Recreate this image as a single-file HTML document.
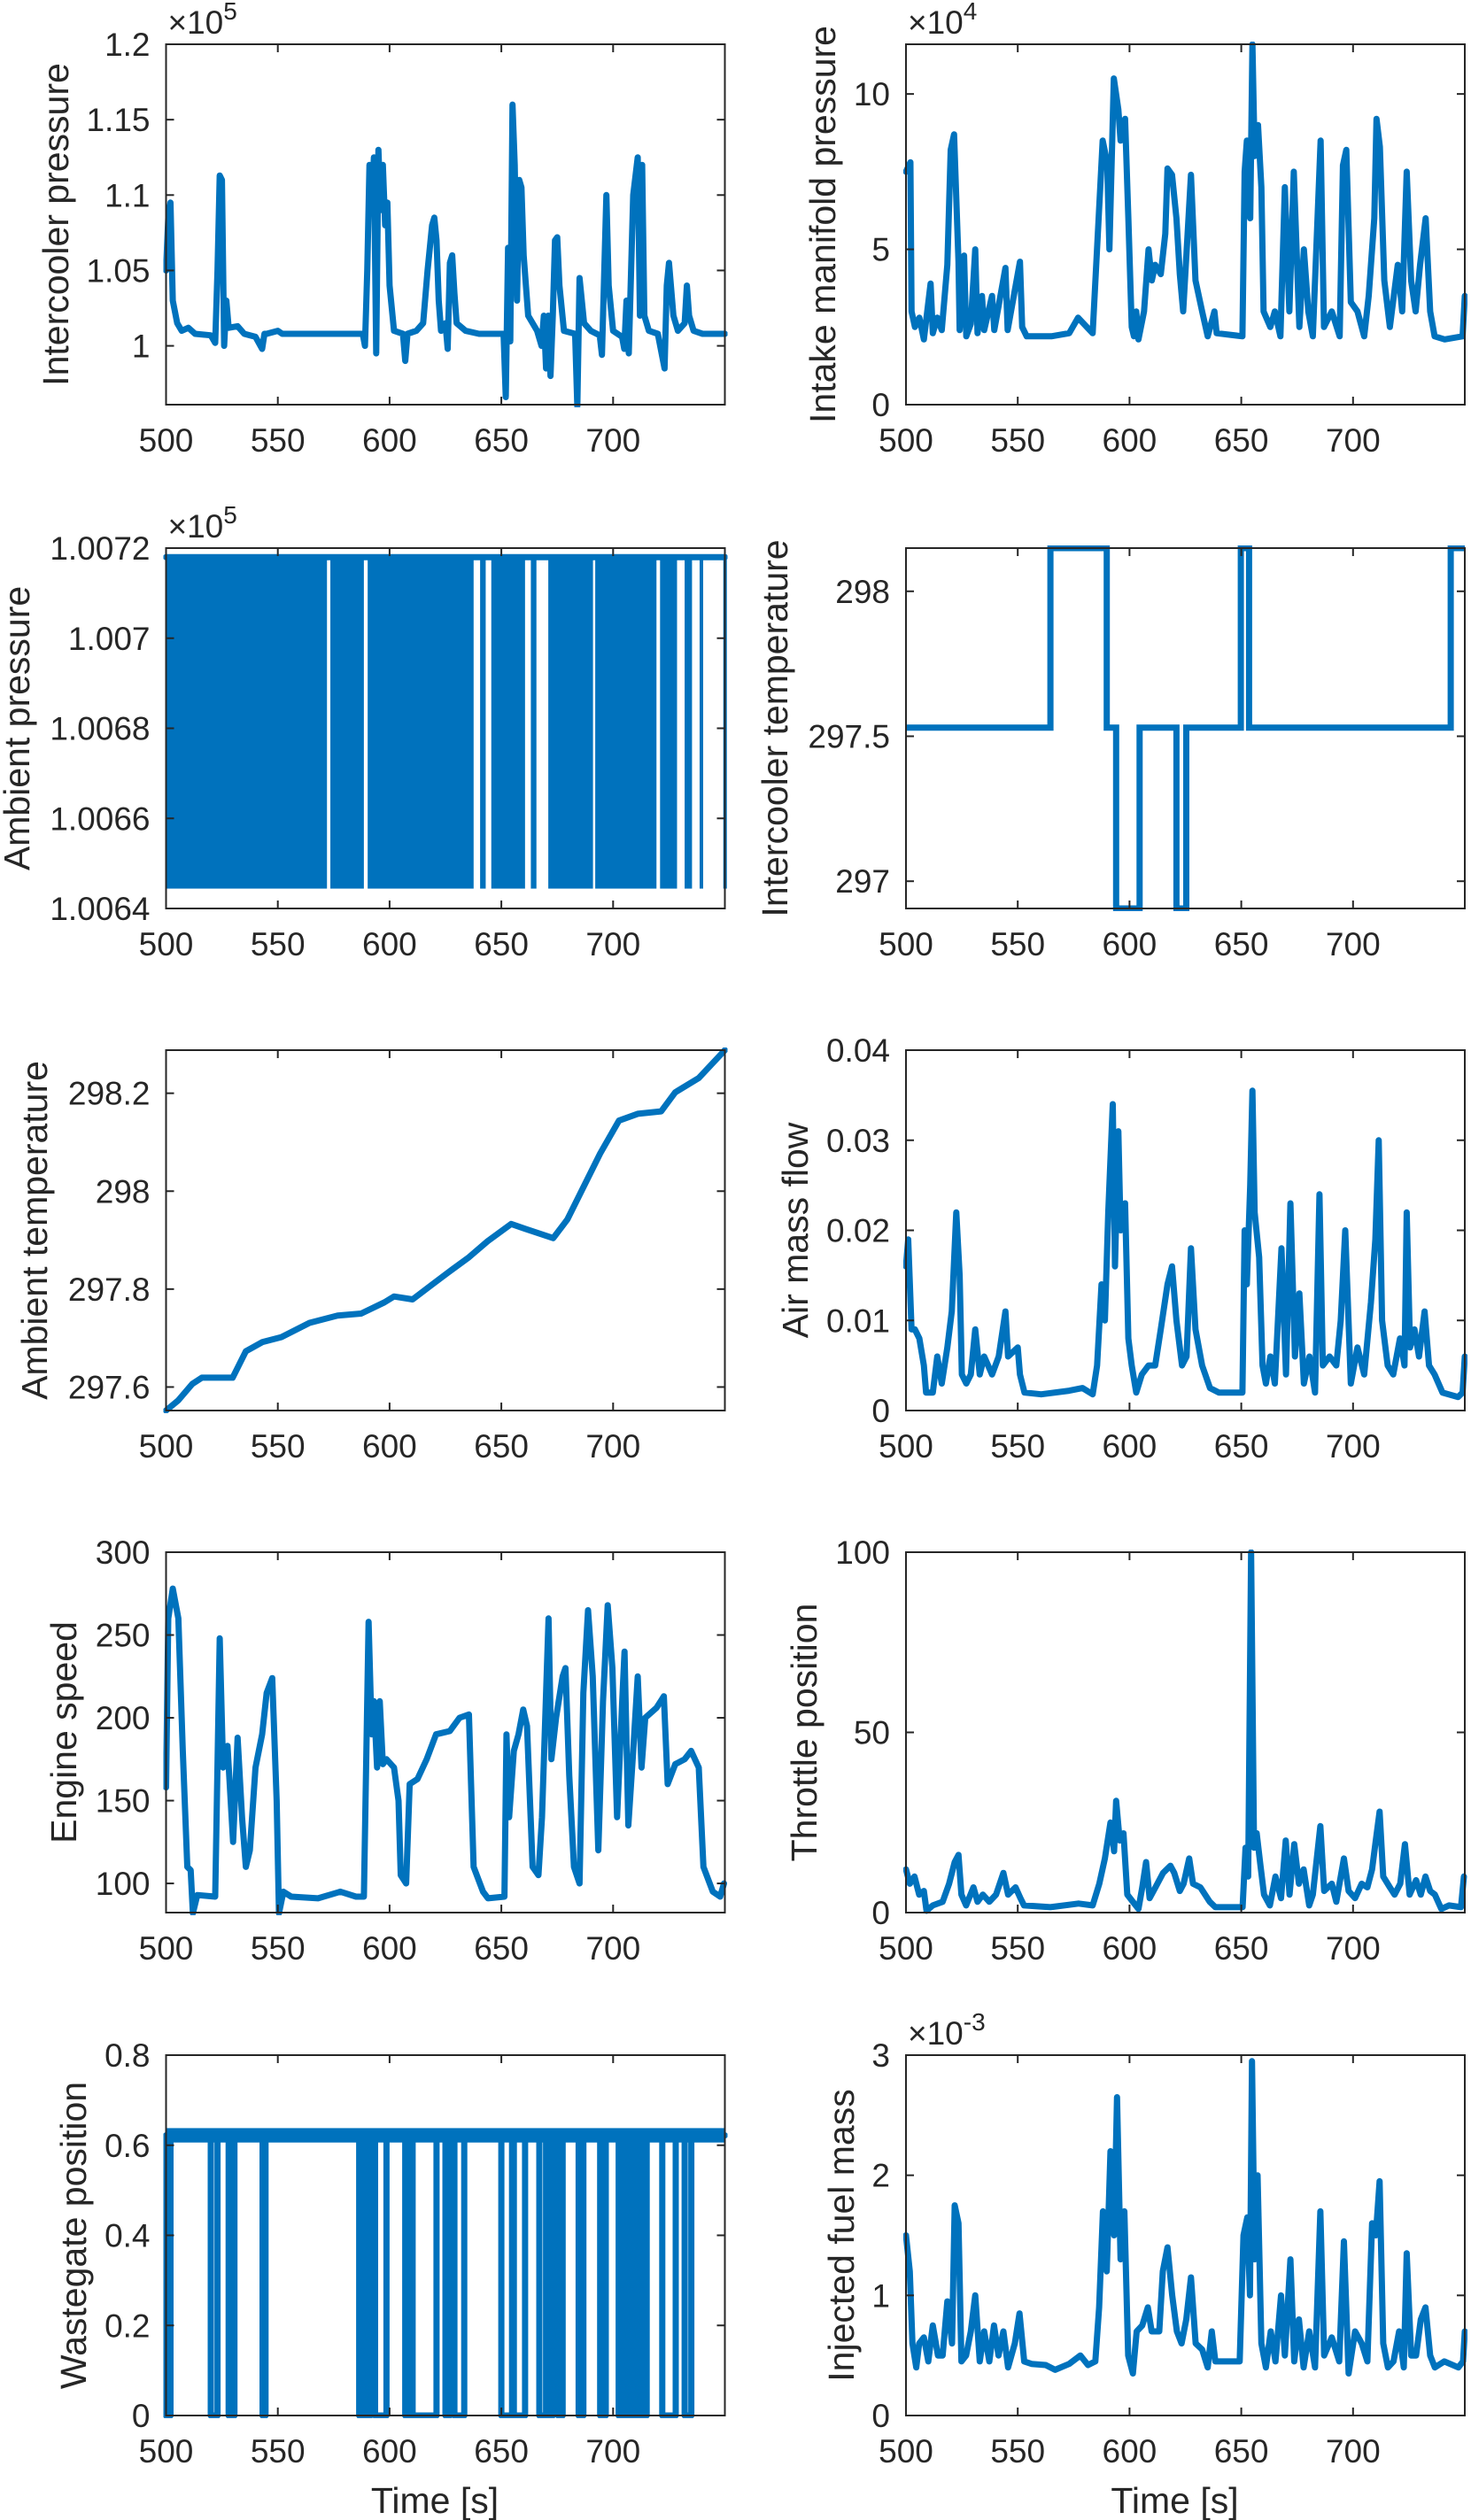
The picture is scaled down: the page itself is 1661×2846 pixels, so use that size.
<!DOCTYPE html>
<html><head><meta charset="utf-8">
<style>
html,body{margin:0;padding:0;background:#fff;}
svg{display:block;font-family:"Liberation Sans",Arial,sans-serif;}
</style></head>
<body>
<svg id="fig" width="1661" height="2846" viewBox="0 0 1661 2846" xmlns="http://www.w3.org/2000/svg"></svg>
<script>
// ---------- data ----------
const xTicks = [500,550,600,650,700,750];
const xTickLabels = ["500","550","600","650","700",""];

const icpT = [500,501,502,503,505,507,510,513,520,522,523,524,525,526,527,528,532,535,540,543,544,545,550,552,588,589,590,591,592,593,594,595,596,597,598,599,600,602,606,607,608,612,615,617,619,620,621,622,623,625,626,627,628,629,630,634,640,651,652,653,654,655,656,657,658,659,660,662,666,668,669,670,671,672,673,674,675,676,678,683,684,685,687,690,694,695,697,698,700,704,705,706,707,709,711,712,713,714,716,720,723,724,725,727,729,732,733,734,736,740,750];
const icpV = [1.05,1.085,1.095,1.03,1.015,1.01,1.012,1.008,1.007,1.002,1.05,1.113,1.11,1.0,1.03,1.012,1.013,1.008,1.006,0.998,1.008,1.008,1.01,1.008,1.008,1.0,1.05,1.12,1.09,1.125,0.995,1.13,1.09,1.12,1.08,1.095,1.04,1.01,1.008,0.99,1.008,1.01,1.015,1.05,1.08,1.085,1.07,1.03,1.01,1.015,0.998,1.055,1.06,1.035,1.015,1.01,1.008,1.008,0.966,1.065,1.003,1.16,1.12,1.03,1.11,1.105,1.06,1.02,1.01,1.0,1.02,0.985,1.02,0.98,1.02,1.07,1.072,1.04,1.01,1.008,0.96,1.045,1.015,1.01,1.007,0.994,1.1,1.04,1.01,1.006,0.998,1.03,0.995,1.1,1.125,1.02,1.12,1.02,1.01,1.008,0.985,1.04,1.055,1.02,1.01,1.015,1.04,1.02,1.01,1.008,1.008];

const impT = [500,502,502.5,504,506,508,511,512,514,516,518.5,520,521.5,523.5,524,526,527,529,531,532,534,535,538.5,539.5,544.5,545.5,551,552,554,565,573,577,583.5,588,590,591,593,595,596,598,599.5,601,602,603,604,606.5,608.5,610,611.5,614,616,617,619,621,622.5,624,627.5,629.5,632.5,635,638,639,650.5,651.5,652.5,654,655,656,657.5,659,660,663,665,667.5,669.5,671.5,673.5,676,678,680,682,685.5,687,690.5,694,695.5,697,699,702,705,707,709.5,710.5,712,714,716.5,720,722,724,726,728,730,732.5,734.5,736.5,741,749,750];
const impV = [7.5,7.8,3,2.5,2.8,2.1,3.9,2.3,2.8,2.4,4.5,8.2,8.7,4.6,2.4,4.8,2.2,2.6,5,2.3,3.5,2.4,3.5,2.4,4.4,2.4,4.6,2.5,2.2,2.2,2.3,2.8,2.3,8.5,7.8,5,10.5,9.5,8.5,9.2,6,2.5,2.2,3,2.1,3,5,4,4.5,4.2,5.5,7.6,7.4,6,4.2,3,7.4,4,3,2.2,3,2.3,2.2,7.5,8.5,6,11.6,8,9,7,3,2.5,3,2.2,7,3,7.5,2.5,5,3,2.2,8.5,2.5,3,2.2,7.7,8.2,3.3,3,2.2,3.5,6,9.2,8.3,4,2.5,4.5,3,7.5,4,3,4.5,6,3,2.2,2.1,2.2,3.5];

const apLow = 1.00645, apHigh = 1.00718;
const apBlockStart = [500,573.5,590.2,640.5,645.5,663.2,671,692,721,732,738.7,749.3];
const apBlockEnd   = [572.0,588.5,637.6,643,660.6,665.7,691,719.4,728.6,735.3,739.5,750];

const ictT = [500,564.6,589.8,594,604.5,621,625.4,649.8,653.5,743.7,750];
const ictV = [297.53,298.149,297.53,296.906,297.53,296.906,297.53,298.149,297.53,298.149,298.149];

const atT = [500,505.5,511.7,516,529.8,535.7,543.2,551.6,564.2,576.8,587.3,597.7,602,610.3,618.7,627.1,635.5,643.9,654.4,660.7,673.2,679.5,685.8,694.2,702.6,711,721.5,727.8,738.3,750];
const atV = [297.552,297.573,297.606,297.619,297.619,297.673,297.692,297.702,297.731,297.746,297.75,297.773,297.785,297.779,297.808,297.837,297.865,297.898,297.933,297.923,297.904,297.942,298.0,298.077,298.144,298.158,298.163,298.202,298.231,298.288];

const amfT = [500,501,502.5,504,506,508,509,512,514,516,518.5,520.5,522.5,524,525,527,529,531,533,535,538.5,541.5,544.5,545.7,550,551,553,560.5,573,579,583.5,585.5,587.5,589,590.5,592.5,593.5,595,596,598,599.5,601,603,605.5,608.5,611.5,614,617,619,621,623.5,625.5,627.5,629.5,632.5,636,640,650.5,651.5,652.5,654,655,656,658,659.5,661,663,665,668,670,672,674,676,678,680.5,683,685,686.5,689.5,692.5,694.5,696.5,699,702,705,708,710,711.5,713,715.5,718,721,723,724,725.5,727.5,729.5,732,734,736.5,740,747,749,750];
const amfV = [0.016,0.019,0.009,0.009,0.008,0.005,0.002,0.002,0.006,0.003,0.007,0.011,0.022,0.015,0.004,0.003,0.004,0.009,0.004,0.006,0.004,0.006,0.011,0.006,0.007,0.004,0.002,0.0018,0.0022,0.0025,0.0018,0.005,0.014,0.01,0.022,0.034,0.016,0.031,0.02,0.023,0.008,0.005,0.002,0.004,0.005,0.005,0.009,0.014,0.016,0.01,0.005,0.006,0.018,0.009,0.005,0.0025,0.002,0.002,0.02,0.014,0.025,0.0355,0.022,0.017,0.005,0.003,0.006,0.003,0.018,0.004,0.023,0.006,0.013,0.003,0.006,0.002,0.024,0.005,0.006,0.005,0.01,0.02,0.003,0.007,0.004,0.012,0.019,0.03,0.01,0.005,0.004,0.008,0.005,0.022,0.007,0.009,0.006,0.011,0.005,0.004,0.002,0.0015,0.002,0.006];

const esT = [500,501,503,505.5,507.5,509.5,511,512,514,522,524,525.5,527.5,530,532,534,535.7,537.5,540,543,545,547.5,549.5,550.5,552.5,556,568,578,585,588.5,590.6,592,593,594.4,595.6,597,598.6,602,604,605,607.4,609,612.5,616.6,620.8,627,631.3,635.5,637.6,641.8,644,651.4,652.3,653.5,655.6,657.7,659.8,661.5,664,666.6,668.2,671.1,672.4,674.5,677.4,678.7,680.4,682.5,685,686.7,688.8,690.9,693.4,695.5,697.6,699.7,701.8,704,705.1,706.8,709,711,712.7,714.4,719.4,722.7,724.4,727.8,732,734.9,738.3,740.4,744.6,747.9,749.6];
const esV = [158,260,278,260,180,110,108,82,93,92,248,170,183,125,188,140,110,120,170,190,215,224,150,82,95,92,91,95,92,92,258,190,210,170,210,172,175,170,150,105,100,160,163,175,190,192,200,202,110,95,91,92,190,140,180,190,205,195,110,105,140,260,175,200,225,230,165,110,100,215,265,225,120,210,268,230,140,208,240,135,180,225,170,200,206,213,160,172,175,180,170,110,95,92,100];

const tpT = [500,501.7,503.8,505.9,508,509.2,512,516.4,519.3,521.8,523.5,524.8,526.9,530.2,532,534.4,537.3,540.3,543.6,545.7,549,551.2,552.8,564.6,577.2,583.5,586.5,589,591.5,593.1,594,595.6,597.3,599,601.5,604,605.7,607.4,609,611.6,615,618.3,620,622.5,624.2,626.7,628.4,631.7,635.9,638.4,650.6,651.9,653.1,654.4,655.7,656.9,658.6,660.2,662.8,665.3,667.8,669.9,671.6,673.7,675.8,677.9,680.4,682,685.4,687.1,690.5,692.5,695.9,698,700.9,703.9,706.4,708.5,710.2,711.9,713.5,716.5,718.6,721.1,723.2,725.3,728.2,730.3,732.4,734.5,736.6,739.5,742.9,748.3,749.6];
const tpV = [12,8,10,5,6,0.5,2,3,8,14,16,5,2,7,3,5,3,5,11,5,7,4,2,1.5,2.5,2,8,15,25,17,31,20,22,5,3,1,7,14,4,7,11,13,11,6,8,15,8,7,3,1.5,1.5,18,10,100,18,22,13,5,2,10,4,20,5,19,8,12,2,5,24,6,8,3,15,6,4,8,7,12,20,28,10,7,5,8,19,5,9,5,10,6,5,1,2,1.5,10];

const wgHigh = 0.622;
const wgDropStart = [500,520,528,543.2,586.4,589.4,593.5,607,610.3,625,629,650,655.6,667,671,675.4,684.6,694.2,702.5,705,707.5,710,713,722,732];
const wgDropEnd   = [502,523,530.6,544.5,588.1,591.5,598.6,609.5,621,627,633.4,654.8,660.6,670,673,677.4,686.7,696.7,704,706.5,709,712,715,728,735];

const ifmT = [500,501.7,502.9,504.6,505.9,508,510,512,514.3,516.4,518.5,520.6,521.8,523.5,524.8,526.9,529,531,533,535,537.3,539.4,541.4,543.6,545.7,548.7,550.8,552.9,556.2,562.5,566.7,573,578,581.4,584.7,586.4,588.1,589.8,591.5,593.1,594.4,596,597.7,599.4,601.5,603.2,605.7,608.2,609.9,613.3,614.9,617,619.1,621.2,623.3,625.4,627.5,629.6,632.5,635,636.8,638.4,649.3,651,652.7,653.9,654.8,656,657.3,659,661,663.2,665.3,667.8,669.5,672,673.7,675.8,677.9,680.4,683,685.4,687.1,690.5,693.8,695.9,698,700.9,703.9,706.4,708.5,710.2,711.9,713.5,715.6,718.1,720.6,722.7,724,726,728.2,730.3,732.4,734.5,736.6,740.8,747.1,749.2,750];
const ifmV = [1.5,1.2,0.6,0.4,0.6,0.65,0.45,0.75,0.5,0.5,0.95,0.6,1.75,1.6,0.45,0.5,0.7,1.0,0.45,0.7,0.45,0.75,0.5,0.7,0.4,0.6,0.85,0.45,0.43,0.42,0.38,0.43,0.5,0.42,0.45,0.9,1.7,1.2,2.2,1.5,2.65,1.3,1.7,0.5,0.35,0.7,0.75,0.9,0.7,0.7,1.2,1.4,1.0,0.7,0.6,0.8,1.15,0.6,0.55,0.4,0.7,0.45,0.45,1.5,1.65,1.0,2.95,1.3,2.0,0.6,0.4,0.7,0.45,1.0,0.5,1.3,0.45,0.8,0.4,0.7,0.4,1.7,0.5,0.65,0.45,1.45,0.35,0.7,0.6,0.45,1.6,1.5,1.95,0.6,0.4,0.45,0.7,0.4,1.35,0.5,0.5,0.8,0.9,0.5,0.4,0.45,0.4,0.45,0.7];

// ---------- drawing ----------
const NS = "http://www.w3.org/2000/svg";
const svg = document.getElementById('fig');
const BLUE = "#0072BD", AX = "#262626";
const colX = [187.5, 1023], W = 631, H = 407;
const rowY = [50, 619, 1186, 1753, 2321];

function mk(tag, attrs, parent) {
  const e = document.createElementNS(NS, tag);
  for (const k in attrs) e.setAttribute(k, attrs[k]);
  (parent || svg).appendChild(e);
  return e;
}

function makeAxes(name, col, row, ylim, yticks, ylabels, ylabel, ylabelX, expo, showTime) {
  const x0 = colX[col], y0 = rowY[row];
  const g = mk('g', {});
  
  
  const sx = t => x0 + (t - 500) / 250 * W;
  const sy = v => y0 + H - (v - ylim[0]) / (ylim[1] - ylim[0]) * H;
  const cid = 'clip-' + name;
  const cp = mk('clipPath', {id: cid}, g);
  mk('rect', {x: x0 - 3, y: y0 - 3, width: W + 6, height: H + 6}, cp);
  const plot = mk('g', {'clip-path': 'url(#' + cid + ')'}, g);
  
  
  const box = mk('rect', {x: x0, y: y0, width: W, height: H, fill: 'none', stroke: AX, 'stroke-width': 2}, g);
  
  
  xTicks.forEach((t, i) => {
    const x = sx(t);
    mk('line', {x1: x, y1: y0 + H, x2: x, y2: y0 + H - 9, stroke: AX, 'stroke-width': 2}, g);
    mk('line', {x1: x, y1: y0, x2: x, y2: y0 + 9, stroke: AX, 'stroke-width': 2}, g);
    if (xTickLabels[i]) {
      const tx = mk('text', {x: x, y: y0 + H + 53, 'font-size': 37, 'text-anchor': 'middle', fill: AX}, g);
      tx.textContent = xTickLabels[i];
      
      
    }
  });
  yticks.forEach((v, i) => {
    const y = sy(v);
    mk('line', {x1: x0, y1: y, x2: x0 + 9, y2: y, stroke: AX, 'stroke-width': 2}, g);
    mk('line', {x1: x0 + W, y1: y, x2: x0 + W - 9, y2: y, stroke: AX, 'stroke-width': 2}, g);
    const ty = mk('text', {x: x0 - 18, y: y + 13, 'font-size': 37, 'text-anchor': 'end', fill: AX}, g);
    ty.textContent = ylabels[i];
    
    
  });
  const cy = y0 + H / 2;
  const yl = mk('text', {x: ylabelX, y: cy, 'font-size': 41, 'text-anchor': 'middle', fill: AX,
    transform: 'rotate(-90 ' + ylabelX + ' ' + cy + ')', 'dominant-baseline': 'central'}, g);
  yl.textContent = ylabel;
  
  
  if (expo) {
    const ex = mk('text', {x: x0 + 2, y: y0 - 12, 'font-size': 37, fill: AX}, g);
    ex.textContent = '\u00d710';
    const sup = mk('tspan', {dy: -16, 'font-size': 28}, ex);
    sup.textContent = expo;
    
    
  }
  if (showTime) {
    const tl = mk('text', {x: x0 + W / 2 - 12, y: y0 + H + 110, 'font-size': 41, 'text-anchor': 'middle', fill: AX}, g);
    tl.textContent = 'Time [s]';
    
    
  }
  return {sx, sy, plot};
}

function drawLine(ax, T, V, name) {
  const pts = T.map((t, i) => ax.sx(t).toFixed(1) + ',' + ax.sy(V[i]).toFixed(1)).join(' ');
  const pl = mk('polyline', {points: pts, fill: 'none', stroke: BLUE, 'stroke-width': 7, 'stroke-linejoin': 'round', 'stroke-linecap': 'round'}, ax.plot);
  
  
}
function drawStairs(ax, T, V, name) {
  const p = [];
  for (let i = 0; i < T.length; i++) {
    if (i > 0) p.push(ax.sx(T[i]).toFixed(1) + ',' + ax.sy(V[i - 1]).toFixed(1));
    p.push(ax.sx(T[i]).toFixed(1) + ',' + ax.sy(V[i]).toFixed(1));
  }
  const pl = mk('polyline', {points: p.join(' '), fill: 'none', stroke: BLUE, 'stroke-width': 7}, ax.plot);
  
  
}

let a = makeAxes('intercooler-pressure', 0, 0, [0.961, 1.2], [1, 1.05, 1.1, 1.15, 1.2], ["1","1.05","1.1","1.15","1.2"], 'Intercooler pressure', 63, '5', false);
drawLine(a, icpT, icpV, 'intercooler-pressure-line');
a = makeAxes('intake-manifold-pressure', 1, 0, [0, 11.6], [0, 5, 10], ["0","5","10"], 'Intake manifold pressure', 929, '4', false);
drawLine(a, impT, impV, 'intake-manifold-pressure-line');
a = makeAxes('ambient-pressure', 0, 1, [1.0064, 1.0072], [1.0064, 1.0066, 1.0068, 1.007, 1.0072], ["1.0064","1.0066","1.0068","1.007","1.0072"], 'Ambient pressure', 19, '5', false);
apBlockStart.forEach((s, i) => {
  const r = mk('rect', {x: a.sx(s), y: a.sy(apHigh) - 3, width: Math.max(a.sx(apBlockEnd[i]) - a.sx(s), 4), height: a.sy(apLow) - a.sy(apHigh) + 6, fill: BLUE}, a.plot);
  
  
});
drawLine(a, [500, 750], [apHigh, apHigh], 'ambient-pressure-upper-line');
a = makeAxes('intercooler-temperature', 1, 1, [296.906, 298.149], [297, 297.5, 298], ["297","297.5","298"], 'Intercooler temperature', 875, null, false);
drawStairs(a, ictT, ictV, 'intercooler-temperature-line');
a = makeAxes('ambient-temperature', 0, 2, [297.552, 298.288], [297.6, 297.8, 298, 298.2], ["297.6","297.8","298","298.2"], 'Ambient temperature', 39, null, false);
drawLine(a, atT, atV, 'ambient-temperature-line');
a = makeAxes('air-mass-flow', 1, 2, [0, 0.04], [0, 0.01, 0.02, 0.03, 0.04], ["0","0.01","0.02","0.03","0.04"], 'Air mass flow', 898, null, false);
drawLine(a, amfT, amfV, 'air-mass-flow-line');
a = makeAxes('engine-speed', 0, 3, [82.4, 300], [100, 150, 200, 250, 300], ["100","150","200","250","300"], 'Engine speed', 72, null, false);
drawLine(a, esT, esV, 'engine-speed-line');
a = makeAxes('throttle-position', 1, 3, [0, 100], [0, 50, 100], ["0","50","100"], 'Throttle position', 908, null, false);
drawLine(a, tpT, tpV, 'throttle-position-line');
a = makeAxes('wastegate-position', 0, 4, [0, 0.8], [0, 0.2, 0.4, 0.6, 0.8], ["0","0.2","0.4","0.6","0.8"], 'Wastegate position', 83, null, true);
{
  const T = [], V = [];
  let prev = 500;
  wgDropStart.forEach((s, i) => {
    if (s > prev) { T.push(prev); V.push(wgHigh); }
    T.push(s); V.push(wgHigh); T.push(s); V.push(0);
    T.push(wgDropEnd[i]); V.push(0); T.push(wgDropEnd[i]); V.push(wgHigh);
    prev = wgDropEnd[i];
  });
  T.push(750); V.push(wgHigh);
  const band = mk('rect', {x: a.sx(500), y: a.sy(0.638), width: a.sx(750) - a.sx(500), height: a.sy(0.606) - a.sy(0.638), fill: BLUE}, a.plot);
  
  
  drawLine(a, T, V, 'wastegate-position-line');
}
a = makeAxes('injected-fuel-mass', 1, 4, [0, 3], [0, 1, 2, 3], ["0","1","2","3"], 'Injected fuel mass', 950, '-3', true);
drawLine(a, ifmT, ifmV, 'injected-fuel-mass-line');
</script>
</body></html>
